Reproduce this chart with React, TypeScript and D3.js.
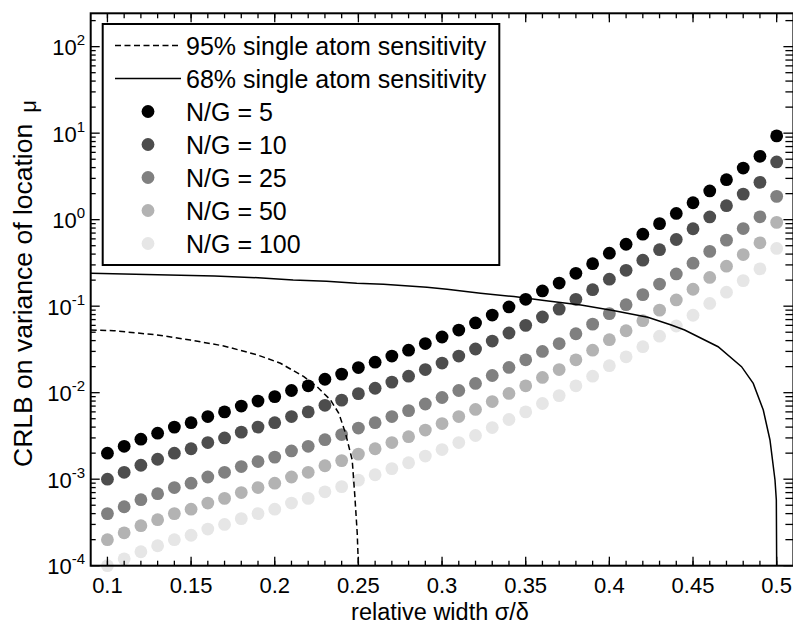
import React from "react";
import * as d3 from "d3";

const W = 793;
const H = 626;

const xValues = [
  0.1, 0.11, 0.12, 0.13, 0.14, 0.15, 0.16, 0.17, 0.18, 0.19, 0.2, 0.21, 0.22, 0.23, 0.24, 0.25, 0.26, 0.27,
  0.28, 0.29, 0.3, 0.31, 0.32, 0.33, 0.34, 0.35, 0.36, 0.37, 0.38, 0.39, 0.4, 0.41, 0.42, 0.43, 0.44, 0.45,
  0.46, 0.47, 0.48, 0.49, 0.5,
];

const ng5 = [
  2.0e-3, 2.4e-3, 2.9e-3, 3.4e-3, 4.0e-3, 4.5e-3, 5.3e-3, 6.0e-3, 7.0e-3, 8.0e-3, 9.0e-3, 1.06e-2, 1.2e-2,
  1.43e-2, 1.64e-2, 1.95e-2, 2.25e-2, 2.65e-2, 3.1e-2, 3.7e-2, 4.4e-2, 5.3e-2, 6.4e-2, 7.9e-2, 9.8e-2, 0.12,
  0.15, 0.185, 0.24, 0.31, 0.41, 0.52, 0.68, 0.9, 1.18, 1.57, 2.15, 2.9, 3.95, 5.4, 9.3,
];
const ng10 = [
  1.0e-3, 1.2e-3, 1.45e-3, 1.7e-3, 2.0e-3, 2.25e-3, 2.65e-3, 3.0e-3, 3.5e-3, 4.0e-3, 4.5e-3, 5.3e-3, 6.0e-3,
  7.15e-3, 8.2e-3, 9.75e-3, 1.125e-2, 1.325e-2, 1.55e-2, 1.85e-2, 2.2e-2, 2.65e-2, 3.2e-2, 3.95e-2, 4.9e-2,
  0.06, 0.075, 0.0925, 0.12, 0.155, 0.205, 0.26, 0.34, 0.45, 0.59, 0.785, 1.075, 1.45, 1.975, 2.7, 4.65,
];
const ng25 = [
  4.0e-4, 4.8e-4, 5.8e-4, 6.8e-4, 8.0e-4, 9.0e-4, 1.06e-3, 1.2e-3, 1.4e-3, 1.6e-3, 1.8e-3, 2.12e-3, 2.4e-3,
  2.86e-3, 3.28e-3, 3.9e-3, 4.5e-3, 5.3e-3, 6.2e-3, 7.4e-3, 8.8e-3, 1.06e-2, 1.28e-2, 1.58e-2, 1.96e-2,
  0.024, 0.03, 0.037, 0.048, 0.062, 0.082, 0.104, 0.136, 0.18, 0.236, 0.314, 0.43, 0.58, 0.79, 1.08, 1.86,
];
const ng50 = [
  2.0e-4, 2.4e-4, 2.9e-4, 3.4e-4, 4.0e-4, 4.5e-4, 5.3e-4, 6.0e-4, 7.0e-4, 8.0e-4, 9.0e-4, 1.06e-3, 1.2e-3,
  1.43e-3, 1.64e-3, 1.95e-3, 2.25e-3, 2.65e-3, 3.1e-3, 3.7e-3, 4.4e-3, 5.3e-3, 6.4e-3, 7.9e-3, 9.8e-3,
  0.012, 0.015, 0.0185, 0.024, 0.031, 0.041, 0.052, 0.068, 0.09, 0.118, 0.157, 0.215, 0.29, 0.395, 0.54, 0.93,
];
const ng100 = [
  1.0e-4, 1.2e-4, 1.45e-4, 1.7e-4, 2.0e-4, 2.25e-4, 2.65e-4, 3.0e-4, 3.5e-4, 4.0e-4, 4.5e-4, 5.3e-4, 6.0e-4,
  7.15e-4, 8.2e-4, 9.75e-4, 1.125e-3, 1.325e-3, 1.55e-3, 1.85e-3, 2.2e-3, 2.65e-3, 3.2e-3, 3.95e-3, 4.9e-3,
  6.0e-3, 7.5e-3, 9.25e-3, 1.2e-2, 1.55e-2, 2.05e-2, 2.6e-2, 3.4e-2, 4.5e-2, 5.9e-2, 7.85e-2, 0.1075, 0.145,
  0.1975, 0.27, 0.465,
];

const seriesLabels = ["N/G = 5", "N/G = 10", "N/G = 25", "N/G = 50", "N/G = 100"];
const seriesColors = ["#000000", "#4d4d4d", "#808080", "#b3b3b3", "#e6e6e6"];
const seriesValues = [ng5, ng10, ng25, ng50, ng100];

const sens68X = [
  0.09, 0.13, 0.164, 0.19, 0.211, 0.231, 0.249, 0.265, 0.291, 0.303, 0.323, 0.343, 0.361, 0.383, 0.403, 0.423,
  0.437, 0.445, 0.465, 0.479, 0.486, 0.492, 0.496, 0.499, 0.4998, 0.5,
];
const sens68Y = [
  0.24, 0.231, 0.223, 0.213, 0.201, 0.194, 0.184, 0.179, 0.165, 0.157, 0.141, 0.129, 0.116, 0.103, 0.0887,
  0.0744, 0.0607, 0.0531, 0.034, 0.02, 0.0128, 0.0063, 0.00284, 0.00098, 0.000575, 0.0001,
];
const sens95X = [
  0.09, 0.1038, 0.1297, 0.1496, 0.1695, 0.1897, 0.2034, 0.2174, 0.2254, 0.2333, 0.2383, 0.2423, 0.2453, 0.2463,
  0.2479, 0.2493, 0.25,
];
const sens95Y = [
  0.0531, 0.0521, 0.0465, 0.0406, 0.0347, 0.0273, 0.0219, 0.0153, 0.0117, 0.00824, 0.00578, 0.0034, 0.00199,
  0.00167, 0.000628, 0.000237, 0.0001,
];

const lineLabels = ["95% single atom sensitivity", "68% single atom sensitivity"];
const xTickLabels = ["0.1", "0.15", "0.2", "0.25", "0.3", "0.35", "0.4", "0.45", "0.5"];
const yTickExponents = [-4, -3, -2, -1, 0, 1, 2];
const xAxisTitle = "relative width σ/δ";
const yAxisTitle = "CRLB on variance of location";

const FONT = "'Liberation Sans', Arial, Helvetica, sans-serif";

export default function App() {
  const L = 90.7, R = 793.4, T = 13.3, B = 565.7;
  const x = d3.scaleLinear().domain([0.09, 0.51]).range([L, R]);
  const y = d3.scaleLog().domain([1e-4, 243]).range([B, T]);

  const line = d3
    .line<[number, number]>()
    .x((d) => x(d[0]))
    .y((d) => y(d[1]));
  const p68 = line(sens68X.map((v, i) => [v, sens68Y[i]] as [number, number])) || "";
  const p95 = line(sens95X.map((v, i) => [v, sens95Y[i]] as [number, number])) || "";

  const xMinor = d3.range(10, 51).map((k) => k / 100);
  const xMajor = xTickLabels.map((s) => +s);
  const yMinor: number[] = [];
  for (let e = -4; e <= 2; e++) for (let m = 2; m <= 9; m++) {
    const v = m * Math.pow(10, e);
    if (v < 243) yMinor.push(v);
  }

  const majLen = 9, minLen = 5;
  const legendRows = [45.5, 78.5, 111.5, 144.5, 177.5, 210.5, 243.5];

  return (
    <div style={{ position: "absolute", left: 0, top: 0, width: W, height: H, overflow: "hidden", background: "#fff" }}>
      <svg width={W} height={H} style={{ display: "block" }} fontFamily={FONT}>
        <rect x={0} y={0} width={W} height={H} fill="#fff" />
        {/* dots */}
        {seriesValues.map((vals, si) => (
          <g key={si}>
            {vals.map((v, i) => (
              <circle key={i} cx={x(xValues[i])} cy={y(v)} r={6.4} fill={seriesColors[si]} />
            ))}
          </g>
        ))}
        {/* curves */}
        <path d={p95} fill="none" stroke="#000" strokeWidth={1.5} strokeDasharray="6,3.5" />
        <path d={p68} fill="none" stroke="#000" strokeWidth={1.5} />

        {/* ticks */}
        <g stroke="#000" strokeWidth={1.3}>
          {xMinor.map((v, i) => (
            <g key={"xm" + i}>
              <line x1={x(v)} x2={x(v)} y1={B} y2={B - minLen} />
              <line x1={x(v)} x2={x(v)} y1={T} y2={T + minLen} />
            </g>
          ))}
          {xMajor.map((v, i) => (
            <g key={"xM" + i}>
              <line x1={x(v)} x2={x(v)} y1={B} y2={B - majLen} />
              <line x1={x(v)} x2={x(v)} y1={T} y2={T + majLen} />
            </g>
          ))}
          {yMinor.map((v, i) => (
            <g key={"ym" + i}>
              <line x1={L} x2={L + minLen} y1={y(v)} y2={y(v)} />
              <line x1={R} x2={R - minLen - 3} y1={y(v)} y2={y(v)} />
            </g>
          ))}
          {yTickExponents.map((e, i) => (
            <g key={"yM" + i}>
              <line x1={L} x2={L + majLen} y1={y(Math.pow(10, e))} y2={y(Math.pow(10, e))} />
              <line x1={R} x2={R - majLen - 1} y1={y(Math.pow(10, e))} y2={y(Math.pow(10, e))} />
            </g>
          ))}
        </g>
        {/* frame */}
        <rect x={L} y={T} width={R - L} height={B - T} fill="none" stroke="#000" strokeWidth={2} />

        {/* tick labels */}
        {xMajor.map((v, i) => (
          <text key={"xl" + i} x={x(v)} y={593} fontSize={22} textAnchor="middle" fill="#000">
            {xTickLabels[i]}
          </text>
        ))}
        {yTickExponents.map((e, i) => (
          <text key={"yl" + i} x={85} y={y(Math.pow(10, e)) + 8.5} textAnchor="end" fill="#000">
            <tspan fontSize={22}>10</tspan>
            <tspan fontSize={15} dy={-10}>{String(e)}</tspan>
          </text>
        ))}

        {/* axis titles */}
        <text x={440} y={620} fontSize={23.5} textAnchor="middle" fill="#000">
          {xAxisTitle}
        </text>
        <text transform={`translate(32,467) rotate(-90)`} fontSize={26.5} textAnchor="start" fill="#000">
          {yAxisTitle}
          <tspan dx={11} dy={4} fontSize={22}>μ</tspan>
        </text>

        {/* legend */}
        <rect x={102.7} y={24} width={396.6} height={241} fill="#fff" stroke="#000" strokeWidth={2} />
        <line x1={115} x2={181} y1={legendRows[0]} y2={legendRows[0]} stroke="#000" strokeWidth={1.5} strokeDasharray="6,3.5" />
        <line x1={115} x2={181} y1={legendRows[1]} y2={legendRows[1]} stroke="#000" strokeWidth={1.5} />
        {lineLabels.map((s, i) => (
          <text key={"ll" + i} x={186} y={legendRows[i] + 9} fontSize={25} fill="#000">
            {s}
          </text>
        ))}
        {seriesLabels.map((s, i) => (
          <g key={"sl" + i}>
            <circle cx={148} cy={legendRows[i + 2]} r={6.4} fill={seriesColors[i]} />
            <text x={186} y={legendRows[i + 2] + 9} fontSize={25} fill="#000">
              {s}
            </text>
          </g>
        ))}
      </svg>
    </div>
  );
}
